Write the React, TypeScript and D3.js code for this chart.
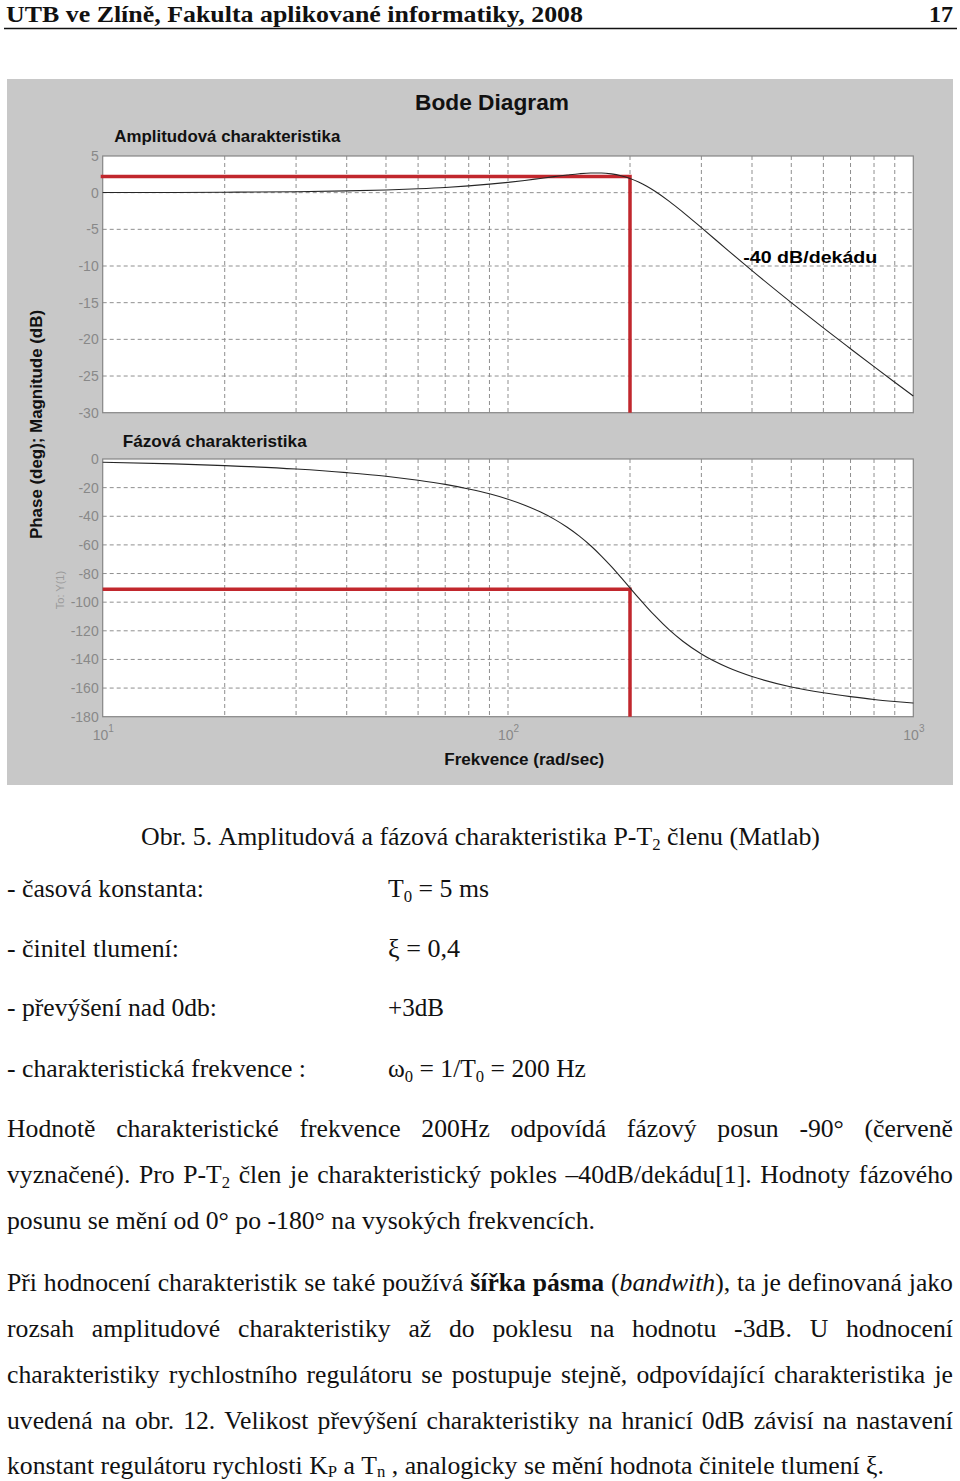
import React, { useEffect, useRef } from "react";
import * as d3 from "d3";

// ---------- chart data ----------
const freqs = [10, 15, 20, 30, 40, 50, 60, 70, 80, 90, 100, 110, 120, 130, 140, 150, 160, 170, 180, 190, 200, 210, 220, 230, 250, 270, 300, 350, 400, 500, 600, 700, 800, 900, 1000];
const magnitudeDb = [0.02, 0.03, 0.06, 0.13, 0.24, 0.37, 0.53, 0.71, 0.93, 1.16, 1.41, 1.67, 1.94, 2.19, 2.41, 2.59, 2.68, 2.68, 2.56, 2.31, 1.94, 1.45, 0.87, 0.22, -1.19, -2.65, -4.77, -7.93, -10.63, -14.99, -18.44, -21.28, -23.72, -25.84, -27.72];
const phaseDeg = [-2.3, -3.4, -4.6, -7.0, -9.5, -12.0, -14.8, -17.7, -20.9, -24.3, -28.1, -32.3, -36.9, -42.0, -47.7, -53.9, -60.6, -67.8, -75.2, -82.7, -90, -97.0, -103.4, -109.3, -119.4, -127.3, -136.2, -145.8, -151.9, -159.2, -163.3, -166.0, -168.0, -169.4, -170.5];
const magTicks = [5, 0, -5, -10, -15, -20, -25, -30];
const phaseTicks = [0, -20, -40, -60, -80, -100, -120, -140, -160, -180];
const decadeTicks = [10, 100, 1000];
const decadeExponents = ["1", "2", "3"];
const minorGrid = [20, 30, 40, 50, 60, 70, 80, 90, 200, 300, 400, 500, 600, 700, 800, 900];
const markerFreq = 200;
const markerMag = 2.2;
const markerPhase = -91;

// ---------- page text ----------
const headerText = "UTB ve Zlíně, Fakulta aplikované informatiky, 2008";
const pageNumber = "17";
const captionText = "Obr. 5. Amplitudová a fázová charakteristika P-T{s:2} členu (Matlab)";
const paramLabels = ["- časová konstanta:", "- činitel tlumení:", "- převýšení nad 0db:", "- charakteristická frekvence :"];
const paramValues = ["T{s:0} = 5 ms", "ξ = 0,4", "+3dB", "ω{s:0} = 1/T{s:0} = 200 Hz"];
const paragraph1 = [
  "Hodnotě charakteristické frekvence 200Hz odpovídá fázový posun -90° (červeně",
  "vyznačené). Pro P-T{s:2} člen je charakteristický pokles –40dB/dekádu[1]. Hodnoty fázového",
  "posunu se mění od 0° po -180° na vysokých frekvencích.",
];
const paragraph2 = [
  "Při hodnocení charakteristik se také používá {b:šířka} {b:pásma} ({i:bandwith}), ta je definovaná jako",
  "rozsah amplitudové charakteristiky až do poklesu na hodnotu -3dB. U hodnocení",
  "charakteristiky rychlostního regulátoru se postupuje stejně, odpovídající charakteristika je",
  "uvedená na obr. 12. Velikost převýšení charakteristiky na hranicí 0dB závisí na nastavení",
  "konstant regulátoru rychlosti K{s:P} a T{s:n} , analogicky se mění hodnota činitele tlumení ξ.",
];

const SERIF = "'Liberation Serif', 'Times New Roman', serif";
const SANS = "'Liberation Sans', Arial, Helvetica, sans-serif";

type Seg = { t: string; k: string };
function parseWord(w: string): Seg[] {
  const segs: Seg[] = [];
  const re = /\{([bis]):([^}]*)\}/g;
  let last = 0;
  let m: RegExpExecArray | null;
  while ((m = re.exec(w))) {
    if (m.index > last) segs.push({ t: w.slice(last, m.index), k: "n" });
    segs.push({ t: m[2], k: m[1] });
    last = re.lastIndex;
  }
  if (last < w.length) segs.push({ t: w.slice(last), k: "n" });
  return segs;
}

type LineSpec = { text: string; x0: number; x1: number; y: number; size: number; weight?: string; mode: "fit" | "justify"; subDy?: number };

export default function App() {
  const ref = useRef<SVGSVGElement | null>(null);

  useEffect(() => {
    const svg = d3.select(ref.current);
    svg.selectAll("*").remove();

    // ---------- chart ----------
    const x = d3.scaleLog().domain([10, 1000]).range([102.7, 913.3]);
    const yMag = d3.scaleLinear().domain([-30, 5]).range([412.7, 156]);
    const yPh = d3.scaleLinear().domain([-180, 0]).range([716.7, 459]);

    const chart = svg.append("g");
    chart.append("rect").attr("x", 7).attr("y", 79).attr("width", 946).attr("height", 706).attr("fill", "#c8c8c8");

    const panels = [
      { y: yMag, ticks: magTicks },
      { y: yPh, ticks: phaseTicks },
    ];
    panels.forEach((p) => {
      const [y0, y1] = p.y.range();
      const g = chart.append("g");
      g.append("rect").attr("x", x(10)).attr("y", y1).attr("width", x(1000) - x(10)).attr("height", y0 - y1).attr("fill", "#ffffff");
      g.selectAll("line.vg").data(minorGrid.concat([100])).enter().append("line")
        .attr("x1", (d) => x(d)).attr("x2", (d) => x(d)).attr("y1", y1).attr("y2", y0)
        .attr("stroke", "#8f8f8f").attr("stroke-width", 1).attr("stroke-dasharray", "4,3");
      const dom = p.y.domain();
      g.selectAll("line.hg").data(p.ticks.filter((t) => t !== dom[0] && t !== dom[1])).enter().append("line")
        .attr("x1", x(10)).attr("x2", x(1000)).attr("y1", (d) => p.y(d)).attr("y2", (d) => p.y(d))
        .attr("stroke", "#8f8f8f").attr("stroke-width", 1).attr("stroke-dasharray", "4,3");
      g.append("rect").attr("x", x(10)).attr("y", y1).attr("width", x(1000) - x(10)).attr("height", y0 - y1)
        .attr("fill", "none").attr("stroke", "#858585").attr("stroke-width", 1.2);
      g.selectAll("text.yt").data(p.ticks).enter().append("text")
        .attr("x", x(10) - 4).attr("y", (d) => p.y(d) + 5).attr("text-anchor", "end")
        .attr("font-family", SANS).attr("font-size", 14).attr("fill", "#888888")
        .text((d) => String(d));
    });

    const red = "#c1272d";
    chart.append("path")
      .attr("d", `M${x(10) - 2},${yMag(markerMag)}H${x(markerFreq)}V${yMag(-30)}`)
      .attr("fill", "none").attr("stroke", red).attr("stroke-width", 3.5);
    chart.append("path")
      .attr("d", `M${x(10)},${yPh(markerPhase)}H${x(markerFreq)}V${yPh(-180)}`)
      .attr("fill", "none").attr("stroke", red).attr("stroke-width", 3.5);

    const idx = d3.range(freqs.length);
    const magLine = d3.line<number>().x((i) => x(freqs[i])).y((i) => yMag(magnitudeDb[i])).curve(d3.curveMonotoneX);
    const phLine = d3.line<number>().x((i) => x(freqs[i])).y((i) => yPh(phaseDeg[i])).curve(d3.curveMonotoneX);
    chart.append("path").attr("d", magLine(idx) as string).attr("fill", "none").attr("stroke", "#262626").attr("stroke-width", 1.1);
    chart.append("path").attr("d", phLine(idx) as string).attr("fill", "none").attr("stroke", "#262626").attr("stroke-width", 1.1);

    decadeTicks.forEach((d, i) => {
      const t = chart.append("text").attr("x", x(d) - 10).attr("y", 740)
        .attr("font-family", SANS).attr("font-size", 14).attr("fill", "#888888");
      t.append("tspan").text("10");
      t.append("tspan").attr("font-size", 10).attr("dy", -8).text(decadeExponents[i]);
    });

    const label = (txt: string, xx: number, yy: number, size: number, len: number, fill = "#111") =>
      chart.append("text").attr("x", xx).attr("y", yy).attr("font-family", SANS).attr("font-weight", "bold")
        .attr("font-size", size).attr("fill", fill).attr("textLength", len).attr("lengthAdjust", "spacingAndGlyphs").text(txt);
    label("Bode Diagram", 415, 110, 22, 154);
    label("Amplitudová charakteristika", 114.3, 141.5, 17, 226);
    label("Fázová charakteristika", 122.7, 446.7, 17, 184);
    label("Frekvence (rad/sec)", 444.3, 765, 16, 160);
    label("-40 dB/dekádu", 743.3, 263.3, 17, 134, "#000");

    chart.append("text").attr("transform", "translate(41.5,424.5) rotate(-90)").attr("text-anchor", "middle")
      .attr("font-family", SANS).attr("font-weight", "bold").attr("font-size", 16).attr("fill", "#111")
      .attr("textLength", 229).attr("lengthAdjust", "spacingAndGlyphs").text("Phase (deg); Magnitude (dB)");
    chart.append("text").attr("transform", "translate(64,590) rotate(-90)").attr("text-anchor", "middle")
      .attr("font-family", SANS).attr("font-size", 11).attr("fill", "#9a9a9a").text("To: Y(1)");

    // ---------- page text ----------
    const page = svg.append("g");
    page.append("line").attr("x1", 4).attr("x2", 957).attr("y1", 28.5).attr("y2", 28.5).attr("stroke", "#111").attr("stroke-width", 1.5);

    const BODY = 26;
    const specs: LineSpec[] = [];
    specs.push({ text: headerText, x0: 6, x1: 583, y: 22, size: 24, weight: "bold", mode: "fit" });
    specs.push({ text: pageNumber, x0: 929, x1: 953, y: 22, size: 24, weight: "bold", mode: "fit" });
    specs.push({ text: captionText, x0: 141, x1: 820, y: 845, size: BODY, mode: "fit" });
    const paramY = [897, 957, 1016, 1077];
    const labelEnds = [204, 179, 217, 306];
    const valueEnds = [489, 460, 444, 586];
    paramLabels.forEach((t, i) => specs.push({ text: t, x0: 7, x1: labelEnds[i], y: paramY[i], size: BODY, mode: "fit" }));
    paramValues.forEach((t, i) => specs.push({ text: t, x0: 388, x1: valueEnds[i], y: paramY[i], size: BODY, mode: "fit" }));
    const p1Y = [1137, 1183, 1229];
    paragraph1.forEach((t, i) => specs.push({ text: t, x0: 7, x1: i === 2 ? 595 : 953, y: p1Y[i], size: BODY, mode: i === 2 ? "fit" : "justify" }));
    const p2Y = [1291, 1337, 1383, 1429, 1474];
    paragraph2.forEach((t, i) => specs.push({ text: t, x0: 7, x1: i === 4 ? 884 : 953, y: p2Y[i], size: BODY, mode: i === 4 ? "fit" : "justify", subDy: i === 4 ? 0.12 : undefined }));

    const built = specs.map((s) => {
      const words = s.text.split(" ").filter(Boolean);
      const subDy = s.subDy ?? 0.18;
      const nodes = words.map((w) => {
        const t = page.append("text").attr("font-family", SERIF).attr("font-size", s.size)
          .attr("font-weight", s.weight || "normal").attr("fill", "#111");
        let sub = false;
        parseWord(w).forEach((sg) => {
          const ts = t.append("tspan").text(sg.t);
          if (sg.k === "b") ts.attr("font-weight", "bold");
          if (sg.k === "i") ts.attr("font-style", "italic");
          if (sg.k === "s") {
            ts.attr("font-size", s.size * 0.65).attr("dy", s.size * subDy);
            sub = true;
          } else if (sub) {
            ts.attr("dy", -s.size * subDy);
            sub = false;
          }
        });
        return t;
      });
      const widths = nodes.map((n) => (n.node() as SVGTextElement).getComputedTextLength());
      return { s, nodes, widths };
    });

    const cs: number[] = [];
    built.forEach(({ s, nodes, widths }) => {
      if (s.mode !== "fit") return;
      const sp = s.size * 0.25;
      const total = d3.sum(widths) + (widths.length - 1) * sp;
      const c = (s.x1 - s.x0) / total;
      if (s.y > 800) cs.push(c);
      let xx = s.x0;
      nodes.forEach((n, i) => {
        n.attr("transform", `translate(${xx},${s.y}) scale(${c},1)`);
        xx += c * (widths[i] + sp);
      });
    });
    const cGlobal = cs.length ? (d3.mean(cs) as number) : 0.93;
    built.forEach(({ s, nodes, widths }) => {
      if (s.mode !== "justify") return;
      const c = cGlobal;
      const gap = (s.x1 - s.x0 - c * d3.sum(widths)) / Math.max(1, widths.length - 1);
      let xx = s.x0;
      nodes.forEach((n, i) => {
        n.attr("transform", `translate(${xx},${s.y}) scale(${c},1)`);
        xx += c * widths[i] + gap;
      });
    });
  }, []);

  return (
    <svg
      ref={ref}
      width={960}
      height={1481}
      style={{ position: "absolute", left: 0, top: 0, background: "#ffffff", display: "block" }}
    />
  );
}
